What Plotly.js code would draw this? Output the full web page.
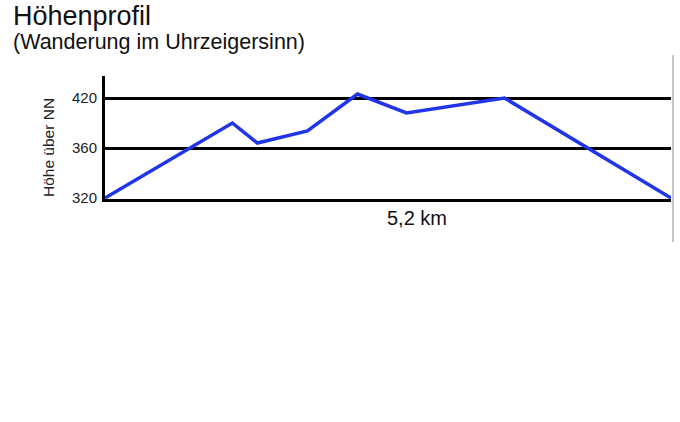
<!DOCTYPE html>
<html>
<head>
<meta charset="utf-8">
<script src="https://cdn.plot.ly/plotly-3.0.1.min.js"></script>
<style>
  html, body { margin: 0; padding: 0; background: #fff; }
  #chart { width: 680px; height: 422px; }
</style>
</head>
<body>
<div id="chart"></div>
<script>
// distance along the route (km) and height (m)
var distanceKm = [0, 1.17, 1.4, 1.86, 2.32, 2.77, 3.67, 5.2];
var heightM = [320, 395, 375, 387, 424, 405, 420, 320];

// y tick positions on the drawn scale and the labels the picture shows there
var yTickPos = [320, 370, 420];
var yTickLabels = ['320', '360', '420'];

var chartTitle = 'Höhenprofil';
var chartSubtitle = '(Wanderung im Uhrzeigersinn)';
var yTitle = 'Höhe über NN';
var xTitle = '5,2 km';

// plot area in pixels
var L = 105, R = 671, T = 76, B = 199;
function px(x) { return (x - L) / (R - L); }
function py(y) { return (B - y) / (B - T); }

var trace = {
  x: distanceKm,
  y: heightM,
  type: 'scatter',
  mode: 'lines',
  line: {color: 'rgb(32,52,232)', width: 3.5},
  hoverinfo: 'skip'
};

var layout = {
  width: 680,
  height: 422,
  margin: {l: L, r: 680 - R, t: T, b: 422 - B},
  paper_bgcolor: '#fff',
  plot_bgcolor: '#fff',
  showlegend: false,
  font: {family: 'Liberation Sans, Arial, sans-serif', color: '#222'},
  xaxis: {
    range: [0, 5.2],
    showgrid: false,
    zeroline: false,
    showline: true,
    linecolor: '#000',
    linewidth: 3,
    showticklabels: false,
    ticks: ''
  },
  yaxis: {
    range: [319, 442],
    tickvals: yTickPos,
    ticktext: yTickLabels,
    tickfont: {size: 15, color: '#222'},
    ticks: '',
    ticklabelstandoff: 2,
    showgrid: true,
    gridcolor: '#000',
    gridwidth: 3,
    zeroline: false,
    showline: true,
    linecolor: '#000',
    linewidth: 3
  },
  shapes: [
    {type: 'line', xref: 'paper', yref: 'paper',
     x0: px(673), x1: px(673), y0: py(242), y1: py(55),
     line: {color: '#c8c8c8', width: 2}}
  ],
  annotations: [
    {text: chartTitle, xref: 'paper', yref: 'paper', x: px(11), y: py(16),
     xanchor: 'left', yanchor: 'middle', showarrow: false,
     font: {size: 27, color: '#111'}},
    {text: chartSubtitle, xref: 'paper', yref: 'paper', x: px(11), y: py(42),
     xanchor: 'left', yanchor: 'middle', showarrow: false,
     font: {size: 21.5, color: '#111'}},
    {text: yTitle, xref: 'paper', yref: 'paper', x: px(48), y: py(148),
     xanchor: 'center', yanchor: 'middle', textangle: -90, showarrow: false,
     font: {size: 15.5, color: '#222'}},
    {text: xTitle, xref: 'paper', yref: 'paper', x: px(417), y: py(218),
     xanchor: 'center', yanchor: 'middle', showarrow: false,
     font: {size: 20, color: '#111'}}
  ]
};

Plotly.newPlot('chart', [trace], layout, {displayModeBar: false, staticPlot: true});
</script>
</body>
</html>
